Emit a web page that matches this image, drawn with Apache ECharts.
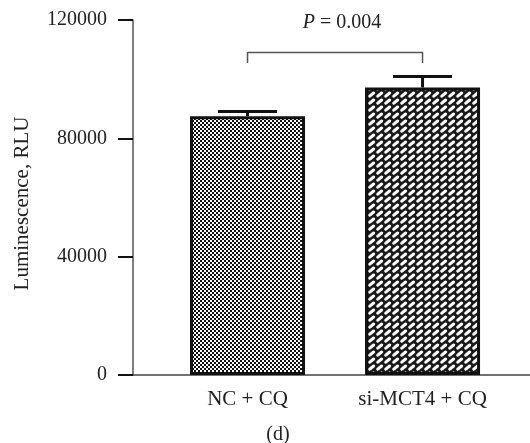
<!DOCTYPE html>
<html>
<head>
<meta charset="utf-8">
<script src="https://cdn.jsdelivr.net/npm/echarts@6/dist/echarts.min.js"></script>
<style>
  html, body { margin: 0; padding: 0; background: #fff; }
  #main { width: 530px; height: 443px; }
</style>
</head>
<body>
<div id="main"></div>
<script>
// values
const categories = ["NC + CQ", "si-MCT4 + CQ"];
const meanValues = [87500, 97200];
const errValues = [1600, 3700];
const yTicks = [0, 40000, 80000, 120000];
const bracketLevels = [105500, 109000]; // foot, top of the significance bracket
const pText = "0.004";

const FONT = "'Liberation Serif', 'DejaVu Serif', serif";

function checkerPattern() {
  const c = document.createElement("canvas");
  c.width = 4; c.height = 4;
  const ctx = c.getContext("2d");
  ctx.fillStyle = "#fff";
  ctx.fillRect(0, 0, 4, 4);
  ctx.fillStyle = "#111";
  ctx.fillRect(0, 0, 2, 2);
  ctx.fillRect(2, 2, 2, 2);
  return c;
}

function dashPattern() {
  const c = document.createElement("canvas");
  c.width = 8; c.height = 7;
  const ctx = c.getContext("2d");
  ctx.fillStyle = "#1a1a1a";
  ctx.fillRect(0, 0, 8, 7);
  ctx.strokeStyle = "#fff";
  ctx.lineWidth = 3;
  ctx.lineCap = "round";
  for (const dx of [-8, 0, 8]) {
    for (const dy of [-7, 0, 7]) {
      ctx.beginPath();
      ctx.moveTo(1.8 + dx, 5.2 + dy);
      ctx.lineTo(5.6 + dx, 2 + dy);
      ctx.stroke();
    }
  }
  return c;
}

const patterns = [checkerPattern(), dashPattern()];
const xPos = categories.map((_, i) => i + 1);

const chart = echarts.init(document.getElementById("main"), null, { renderer: "canvas" });

chart.setOption({
  animation: false,
  backgroundColor: "#fff",
  title: [
    {
      text: "{i|P} = " + pText,
      left: 337,
      top: 8,
      textAlign: "center",
      textStyle: {
        fontFamily: FONT, fontSize: 20, fontWeight: "normal", color: "#222",
        rich: { i: { fontFamily: FONT, fontSize: 20, fontStyle: "italic", color: "#222" } }
      }
    },
    {
      text: "(d)",
      left: 273,
      top: 420,
      textAlign: "center",
      textStyle: { fontFamily: FONT, fontSize: 20, fontWeight: "normal", color: "#222" }
    }
  ],
  grid: { left: 133, right: 0, top: 20, bottom: 68 },
  xAxis: {
    type: "value",
    min: 0.3457,
    max: 2.614,
    axisLine: { show: true, lineStyle: { color: "#444", width: 1.5 } },
    axisTick: { show: false },
    splitLine: { show: false },
    axisLabel: {
      customValues: xPos,
      formatter: v => categories[Math.round(v) - 1] || "",
      margin: 14,
      fontFamily: FONT,
      fontSize: 21,
      color: "#222"
    }
  },
  yAxis: {
    type: "value",
    min: yTicks[0],
    max: yTicks[yTicks.length - 1],
    interval: yTicks[1] - yTicks[0],
    name: "Luminescence, RLU",
    nameLocation: "middle",
    nameGap: 100,
    nameTextStyle: { fontFamily: FONT, fontSize: 21, color: "#222", padding: [0, 12, 0, 0] },
    axisLine: { show: true, lineStyle: { color: "#555", width: 1.5 } },
    axisTick: { show: true, length: 15, lineStyle: { color: "#111", width: 2 } },
    splitLine: { show: false },
    axisLabel: { margin: 26, fontFamily: FONT, fontSize: 20, color: "#222", formatter: v => String(v) }
  },
  series: [
    {
      type: "bar",
      barWidth: 115,
      data: meanValues.map((v, i) => ({
        value: [xPos[i], v],
        itemStyle: {
          color: { image: patterns[i], repeat: "repeat" },
          borderColor: "#111",
          borderWidth: 3
        }
      }))
    },
    {
      type: "custom",
      silent: true,
      data: meanValues.map((v, i) => [xPos[i], v, v + errValues[i]]),
      renderItem(params, api) {
        const base = api.coord([api.value(0), api.value(1)]);
        const top = api.coord([api.value(0), api.value(2)]);
        const style = { stroke: "#111", lineWidth: 3 };
        return {
          type: "group",
          children: [
            { type: "line", shape: { x1: base[0], y1: base[1], x2: top[0], y2: top[1] }, style },
            { type: "line", shape: { x1: top[0] - 29.5, y1: top[1], x2: top[0] + 29.5, y2: top[1] }, style }
          ]
        };
      }
    },
    {
      type: "line",
      silent: true,
      symbol: "none",
      lineStyle: { color: "#555", width: 1.5 },
      data: [
        [xPos[0], bracketLevels[0]],
        [xPos[0], bracketLevels[1]],
        [xPos[1], bracketLevels[1]],
        [xPos[1], bracketLevels[0]]
      ]
    }
  ]
});
</script>
</body>
</html>
